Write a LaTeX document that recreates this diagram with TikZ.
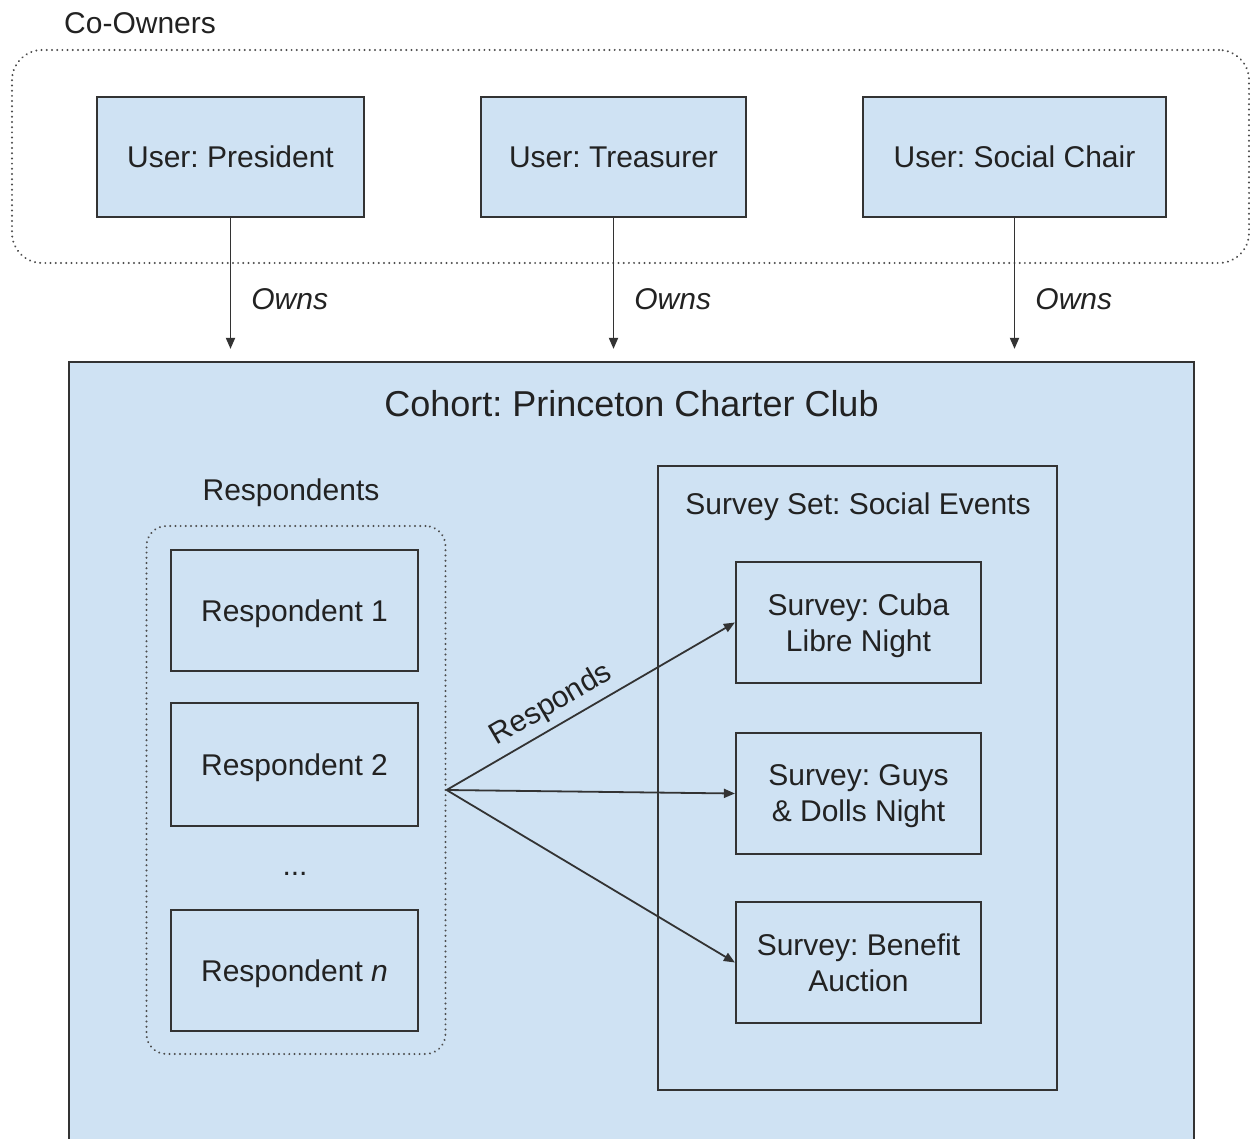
\documentclass[tikz,border=0pt]{standalone}
\usepackage{fontspec}
\setmainfont{Liberation Sans}
\frenchspacing
\usetikzlibrary{arrows.meta}
\definecolor{boxblue}{HTML}{CFE2F3}
\definecolor{edge}{HTML}{333333}
\definecolor{txt}{HTML}{222222}
\tikzset{
  txtfont/.style={font=\fontsize{30}{36}\selectfont, text=txt},
  bluebox/.style={draw=edge, line width=2.2pt, fill=boxblue, txtfont, align=center, inner sep=0pt, text depth=0pt},
  plainbox/.style={draw=edge, line width=2.2pt, txtfont, align=center, inner sep=0pt, text depth=0pt},
  dotbox/.style={draw=black!70, line width=2.2pt, line cap=round, dash pattern=on 0.01pt off 5.2pt, inner sep=0pt},
  arr/.style={draw=edge, line width=1.8pt, -{Triangle[length=11pt,width=9pt]}},
  lbl/.style={txtfont, inner sep=0pt},
}
\begin{document}
\begin{tikzpicture}[x=1pt, y=-1pt]
\useasboundingbox (0,0) rectangle (1250,1139);
% co-owners group
\node[lbl, anchor=west] (colbl) at (64,23) {Co-Owners};
\node[dotbox, rounded corners=30pt, minimum width=1237pt, minimum height=213pt] (cogrp) at (630.5,156.5) {};
% users
\node[bluebox, minimum width=267pt, minimum height=120pt] (pres) at (230.5,157) {User: President};
\node[bluebox, minimum width=265pt, minimum height=120pt] (treas) at (613.5,157) {User: Treasurer};
\node[bluebox, minimum width=303pt, minimum height=120pt] (soc) at (1014.5,157) {User: Social Chair};
% cohort
\node[bluebox, minimum width=1125pt, minimum height=800pt] (cohort) at (631.5,762) {};
\node[lbl, font=\fontsize{36}{40}\selectfont] (cohortlbl) at (631.5,404) {Cohort: Princeton Charter Club};
% owns arrows
\draw[arr, shorten >=12pt] (pres.south) -- (pres.south |- cohort.north)
  node[lbl, pos=0.57, anchor=west, xshift=20pt, font=\fontsize{30}{36}\selectfont\itshape] {Owns};
\draw[arr, shorten >=12pt] (treas.south) -- (treas.south |- cohort.north)
  node[lbl, pos=0.57, anchor=west, xshift=20pt, font=\fontsize{30}{36}\selectfont\itshape] {Owns};
\draw[arr, shorten >=12pt] (soc.south) -- (soc.south |- cohort.north)
  node[lbl, pos=0.57, anchor=west, xshift=20pt, font=\fontsize{30}{36}\selectfont\itshape] {Owns};
% respondents
\node[lbl] (resplbl) at (291,493) {Respondents};
\node[dotbox, rounded corners=20pt, minimum width=299pt, minimum height=528pt] (resp) at (296,790) {};
\node[plainbox, minimum width=247pt, minimum height=121pt] (r1) at (294.5,610.5) {Respondent 1};
\node[plainbox, minimum width=247pt, minimum height=123pt] (r2) at (294.5,764.5) {Respondent 2};
\node[lbl] (rdots) at (295,874) {...};
\node[plainbox, minimum width=247pt, minimum height=121pt] (rn) at (294.5,970.5) {Respondent \textit{n}};
% survey set
\node[plainbox, minimum width=399pt, minimum height=624pt] (sset) at (857.5,778) {};
\node[lbl] (ssetlbl) at (858,507) {Survey Set: Social Events};
\node[plainbox, minimum width=245pt, minimum height=121pt] (s1) at (858.5,622.5) {Survey: Cuba\\Libre Night};
\node[plainbox, minimum width=245pt, minimum height=121pt] (s2) at (858.5,793.5) {Survey: Guys\\\& Dolls Night};
\node[plainbox, minimum width=245pt, minimum height=121pt] (s3) at (858.5,962.5) {Survey: Benefit\\Auction};
% responds arrows
\draw[arr] (resp.east) -- (s1.west)
  node[lbl, sloped, pos=0.4, above, yshift=6pt] {Responds};
\draw[arr] (resp.east) -- (s2.west);
\draw[arr] (resp.east) -- (s3.west);
\end{tikzpicture}
\end{document}
